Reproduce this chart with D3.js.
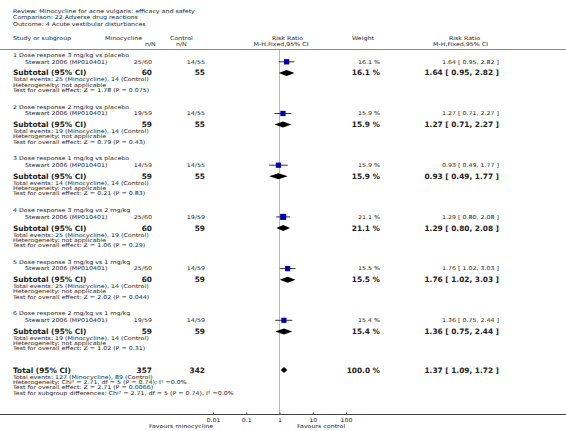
<!DOCTYPE html>
<html><head><meta charset="utf-8">
<script src="https://cdnjs.cloudflare.com/ajax/libs/d3/7.8.5/d3.min.js"></script>
<style>body{margin:0;background:#fff}svg{display:block}</style>
</head><body>
<script>
// ---- data ----
const titleLines = ["Review:  Minocycline for acne vulgaris: efficacy and safety",
  "Comparison:  22 Adverse drug reactions",
  "Outcome:  4 Acute vestibular disturbances"];
const subgroupLabels = ["1 Dose response 3 mg/kg vs placebo","2 Dose response 2 mg/kg vs placebo",
  "3 Dose response 1 mg/kg vs placebo","4 Dose response 3 mg/kg vs 2 mg/kg",
  "5 Dose response 3 mg/kg vs 1 mg/kg","6 Dose response 2 mg/kg vs 1 mg/kg"];
const studyName = "Stewart 2006 (MP010401)";
const eventsMino = [25,19,14,25,25,19];
const totalMino  = [60,59,59,60,60,59];
const eventsCtrl = [14,14,14,19,14,14];
const totalCtrl  = [55,55,55,59,59,59];
const weights    = [16.1,15.9,15.9,21.1,15.5,15.4];
const rr     = [1.64,1.27,0.93,1.29,1.76,1.36];
const rrLow  = [0.95,0.71,0.49,0.80,1.02,0.75];
const rrHigh = [2.82,2.27,1.77,2.08,3.03,2.44];
const zTests = ["Z = 1.78 (P = 0.075)","Z = 0.79 (P = 0.43)","Z = 0.21 (P = 0.83)",
  "Z = 1.06 (P = 0.29)","Z = 2.02 (P = 0.044)","Z = 1.02 (P = 0.31)"];
const overallTotals = [357,342];
const overallEvents = [127,89];
const overallRR = [1.37,1.09,1.72];
const overallWeight = 100.0;
const overallLines = ["Heterogeneity: Chi\u00b2 = 2.71, df = 5 (P = 0.74); I\u00b2 =0.0%",
  "Test for overall effect: Z = 2.71 (P = 0.0066)",
  "Test for subgroup differences: Chi\u00b2 = 2.71, df = 5 (P = 0.74), I\u00b2 =0.0%"];
const tickValues = [0.01,0.1,1,10,100];
const tickLabels = ["0.01","0.1","1","10","100"];

// ---- layout ----
const W=566,H=431;
const svg=d3.select("body").append("svg").attr("width",W).attr("height",H);
const FONT="DejaVu Sans", FS=5.3, SX=1.19, FSB=7.4, COL="#222";
const x=d3.scaleLog().domain([0.01,100]).range([213,346]);
const fmt=d3.format(".2f");
function txt(s,xx,cy,opt={}){
  const b=!!opt.bold, fs=opt.fs||(b?FSB:FS), sx=b?1:SX;
  return svg.append("text").attr("transform",`translate(${xx},${cy+fs*0.34}) scale(${sx},1)`)
    .attr("font-family",FONT).attr("font-size",fs).attr("font-weight",b?"bold":"normal")
    .attr("fill",COL).attr("text-anchor",opt.anchor||"start").text(s);
}
// title
titleLines.forEach((t,i)=>txt(t,13,11+i*6.6));
// headers
txt("Study or subgroup",13,38);
txt("Minocycline",105,38); txt("n/N",145,44.5);
txt("Control",170,38); txt("n/N",176,44.5);
txt("Risk Ratio",287.5,38,{anchor:"middle"}); txt("M-H,Fixed,95% CI",281,44.5,{anchor:"middle"});
txt("Weight",352,38);
txt("Risk Ratio",464.5,38,{anchor:"middle"}); txt("M-H,Fixed,95% CI",460.5,44.5,{anchor:"middle"});
svg.append("line").attr("x1",0).attr("x2",W).attr("y1",49.5).attr("y2",49.5).attr("stroke","#888").attr("stroke-width",1);
// null line
svg.append("line").attr("x1",x(1)).attr("x2",x(1)).attr("y1",50).attr("y2",414).attr("stroke","#bbb").attr("stroke-width",1);

const size=d3.scaleSqrt().domain([0,16.1]).range([0,5.3]);
function diamond(cy,lo,mid,hi,h){
  const p=[[x(lo),cy],[x(mid),cy-h],[x(hi),cy],[x(mid),cy+h]];
  svg.append("path").attr("d","M"+p.join("L")+"Z").attr("fill","#000");
}
subgroupLabels.forEach((lab,k)=>{
  const h=55+51.7*k;
  txt(lab,13,h);
  const ys=h+6.8;
  txt(studyName,25,ys);
  txt(eventsMino[k]+"/"+totalMino[k],152,ys,{anchor:"end"});
  txt(eventsCtrl[k]+"/"+totalCtrl[k],205,ys,{anchor:"end"});
  txt(weights[k].toFixed(1)+" %",380,ys,{anchor:"end"});
  txt(fmt(rr[k])+" [ "+fmt(rrLow[k])+", "+fmt(rrHigh[k])+" ]",499,ys,{anchor:"end"});
  svg.append("line").attr("x1",x(rrLow[k])).attr("x2",x(rrHigh[k])).attr("y1",ys).attr("y2",ys)
    .attr("stroke","#333").attr("stroke-width",1);
  const s=size(weights[k]);
  svg.append("rect").attr("x",x(rr[k])-s/2).attr("y",ys-s/2).attr("width",s).attr("height",s).attr("fill","#0000b0");
  const yt=h+17.9;
  txt("Subtotal (95% CI)",13,yt,{bold:true});
  txt(totalMino[k],152,yt,{bold:true,anchor:"end"});
  txt(totalCtrl[k],205,yt,{bold:true,anchor:"end"});
  txt(weights[k].toFixed(1)+" %",380,yt,{bold:true,anchor:"end"});
  txt(fmt(rr[k])+" [ "+fmt(rrLow[k])+", "+fmt(rrHigh[k])+" ]",499,yt,{bold:true,anchor:"end"});
  diamond(yt,rrLow[k],rr[k],rrHigh[k],3);
  txt("Total events: "+eventsMino[k]+" (Minocycline), "+eventsCtrl[k]+" (Control)",13,h+24.6);
  txt("Heterogeneity: not applicable",13,h+29.7);
  txt("Test for overall effect: "+zTests[k],13,h+35);
});
// overall
const yT=370;
txt("Total (95% CI)",13,yT,{bold:true});
txt(overallTotals[0],152,yT,{bold:true,anchor:"end"});
txt(overallTotals[1],205,yT,{bold:true,anchor:"end"});
txt(overallWeight.toFixed(1)+" %",380,yT,{bold:true,anchor:"end"});
txt(fmt(overallRR[0])+" [ "+fmt(overallRR[1])+", "+fmt(overallRR[2])+" ]",499,yT,{bold:true,anchor:"end"});
diamond(yT,overallRR[1],overallRR[0],overallRR[2],3);
txt("Total events: "+overallEvents[0]+" (Minocycline), "+overallEvents[1]+" (Control)",13,377.2);
overallLines.forEach((l,i)=>txt(l,13,382.4+i*5.2));
// axis
svg.append("line").attr("x1",0).attr("x2",W).attr("y1",414.5).attr("y2",414.5).attr("stroke","#444").attr("stroke-width",1);
const ax=d3.axisBottom(x).tickValues(tickValues).tickFormat((d,i)=>tickLabels[i]).tickSize(-2).tickPadding(4);
const g=svg.append("g").attr("transform","translate(0,414.5)").call(ax);
g.select(".domain").remove();
g.selectAll("line").attr("stroke","#444");
g.selectAll("text").attr("font-family",FONT).attr("font-size",FS).attr("fill",COL).attr("transform",`scale(${SX},1)`);
txt("Favours minocycline",213,426,{anchor:"end"});
txt("Favours control",297,426);
</script>
</body></html>
